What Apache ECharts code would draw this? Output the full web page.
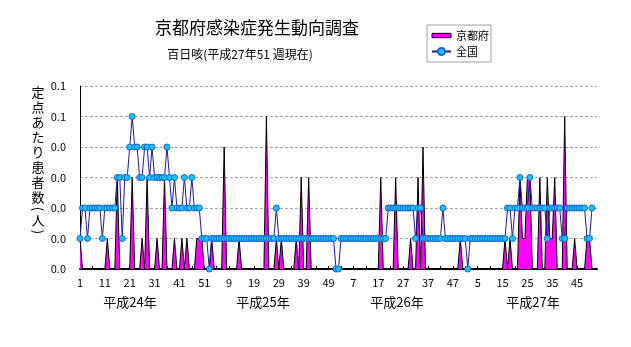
<!DOCTYPE html>
<html>
<head>
<meta charset="utf-8">
<script src="https://cdn.jsdelivr.net/npm/echarts@6/dist/echarts.min.js"></script>
<style>
html,body{margin:0;padding:0;background:#fff;}
#chart{width:631px;height:347px;}
</style>
</head>
<body>
<div id="chart"></div>
<script>
// ---- data ----
const yearLabels = ['平成24年', '平成25年', '平成26年', '平成27年'];
const weeksPerYear = [52, 52, 52, 53];
const yTickLabels = ['0.0', '0.0', '0.0', '0.0', '0.0', '0.1', '0.1'];

const kyoto2012 = [0.01,0,0,0,0,0,0,0,0,0, 0,0.01,0,0,0,0.03,0,0,0,0, 0,0.03,0,0,0,0.01,0,0.03,0,0,
                   0,0.01,0,0,0.03,0,0,0,0.01,0, 0,0.01,0,0.01,0,0,0,0.01,0.01,0.01, 0,0];
const kyoto2013 = [0,0.01,0,0,0,0,0.04,0,0,0, 0,0,0.01,0,0,0,0,0,0,0, 0,0,0,0.05,0,0,0,0.01,0,0.01,
                   0,0,0,0,0,0.01,0,0.03,0,0, 0.03,0,0,0,0,0,0,0,0,0, 0,0];
const kyoto2014 = [0,0,0,0,0,0,0,0,0,0, 0,0,0,0,0,0,0,0.03,0,0, 0,0,0,0.03,0,0,0,0,0,0.01,
                   0,0,0.03,0,0.04,0,0,0,0,0, 0,0,0,0,0,0,0,0,0,0.01, 0,0];
const kyoto2015 = [0,0,0,0,0,0,0,0,0,0, 0,0,0,0,0,0.01,0,0.01,0,0, 0,0.03,0.01,0.01,0.03,0.03,0,0,0,0.03,
                   0,0,0.03,0.01,0.01,0.03,0,0,0,0.05, 0,0,0,0.01,0,0,0,0,0.01,0.01, 0];

const national2012 = [0.01,0.02,0.02,0.01,0.02,0.02,0.02,0.02,0.02,0.01,
                      0.02,0.02,0.02,0.02,0.02,0.03,0.03,0.01,0.03,0.03,
                      0.04,0.05,0.04,0.04,0.03,0.03,0.04,0.04,0.03,0.04,
                      0.03,0.03,0.03,0.03,0.03,0.04,0.03,0.02,0.03,0.02,
                      0.02,0.02,0.03,0.02,0.02,0.03,0.02,0.02,0.02,0.01,
                      0.01,0.01];
const national2013 = [0,0.01,0.01,0.01,0.01,0.01,0.01,0.01,0.01,0.01,
                      0.01,0.01,0.01,0.01,0.01,0.01,0.01,0.01,0.01,0.01,
                      0.01,0.01,0.01,0.01,0.01,0.01,0.01,0.02,0.01,0.01,
                      0.01,0.01,0.01,0.01,0.01,0.01,0.01,0.01,0.01,0.01,
                      0.01,0.01,0.01,0.01,0.01,0.01,0.01,0.01,0.01,0.01,
                      0.01,0];
const national2014 = [0,0.01,0.01,0.01,0.01,0.01,0.01,0.01,0.01,0.01,
                      0.01,0.01,0.01,0.01,0.01,0.01,0.01,0.01,0.01,0.01,
                      0.02,0.02,0.02,0.02,0.02,0.02,0.02,0.02,0.02,0.02,
                      0.02,0.01,0.02,0.02,0.01,0.01,0.01,0.01,0.01,0.01,
                      0.01,0.01,0.02,0.01,0.01,0.01,0.01,0.01,0.01,0.01,
                      0.01,0.01];
const national2015 = [0,0.01,0.01,0.01,0.01,0.01,0.01,0.01,0.01,0.01,
                      0.01,0.01,0.01,0.01,0.01,0.01,0.02,0.02,0.01,0.02,
                      0.02,0.03,0.02,0.02,0.02,0.03,0.02,0.02,0.02,0.02,
                      0.02,0.02,0.01,0.02,0.02,0.02,0.02,0.02,0.01,0.01,
                      0.02,0.02,0.02,0.02,0.02,0.02,0.02,0.02,0.01,0.01,
                      0.02];

// ---- build ----
const weekLabels = [];
weeksPerYear.forEach(n => { for (let w = 1; w <= n; w++) weekLabels.push(String(w)); });
const kyoto = [].concat(kyoto2012, kyoto2013, kyoto2014, kyoto2015);
const national = [].concat(national2012, national2013, national2014, national2015);

const FONT = '"Noto Sans CJK JP", "Noto Sans", sans-serif';
const chart = echarts.init(document.getElementById('chart'), null, {renderer: 'canvas'});

const yName = '定点あたり患者数(人)';
const yNameEls = [];
let yy = 85;
for (const ch of yName) {
  const paren = (ch === '(' || ch === ')');
  const h = paren ? 8 : 15;
  yNameEls.push({
    type: 'text', x: 38, y: yy + h / 2, rotation: paren ? -Math.PI / 2 : 0,
    style: {text: ch, fill: '#000', font: '13px ' + FONT, align: 'center', verticalAlign: 'middle'}
  });
  yy += h;
}
const yearX = [130, 263, 397, 533];
const yearEls = yearLabels.map((t, k) => ({
  type: 'text', x: yearX[k], y: 302,
  style: {text: t, fill: '#000', font: '13px ' + FONT, align: 'center', verticalAlign: 'middle'}
}));

chart.setOption({
  animation: false,
  backgroundColor: '#fff',
  grid: {left: 80, right: 34, top: 86, bottom: 78},
  legend: {
    orient: 'vertical', left: 427, top: 25,
    padding: [5, 2, 5, 4], itemGap: 5, itemWidth: 19, itemHeight: 9,
    backgroundColor: '#fff', borderColor: '#a0a0a0', borderWidth: 1,
    textStyle: {fontSize: 11, color: '#000', fontFamily: FONT},
    data: [
      {name: '京都府', icon: 'path://M0,0H22V5H0Z', itemStyle: {color: '#ff00ff', borderColor: '#000', borderWidth: 1}},
      {name: '全国'}
    ]
  },
  xAxis: {
    type: 'category', data: weekLabels, boundaryGap: false,
    axisLine: {lineStyle: {color: '#000', width: 2}},
    axisTick: {inside: true, length: 3, interval: (i) => i % 5 === 0, lineStyle: {color: '#000'}},
    axisLabel: {interval: (i) => i % 10 === 0, color: '#000', fontSize: 11, margin: 8, fontFamily: FONT},
    splitLine: {show: false}
  },
  yAxis: {
    type: 'value', min: 0, max: 0.06, interval: 0.01,
    axisLine: {show: true, lineStyle: {color: '#000', width: 1}},
    axisTick: {show: false},
    axisLabel: {
      formatter: (v) => yTickLabels[Math.round(v / 0.01)],
      color: '#000', fontSize: 11, margin: 14, fontFamily: FONT
    },
    splitLine: {lineStyle: {color: '#a8a0b0', type: [3, 2], width: 1}}
  },
  series: [
    {
      name: '京都府', type: 'line', data: kyoto, showSymbol: false, symbol: 'none', z: 2,
      lineStyle: {color: '#000', width: 1},
      itemStyle: {color: '#ff00ff'},
      areaStyle: {color: '#ff00ff', opacity: 1}
    },
    {
      name: '全国', type: 'line', data: national, symbol: 'circle', symbolSize: 6, z: 3,
      showSymbol: true, showAllSymbol: true,
      lineStyle: {color: '#1c1c96', width: 1},
      itemStyle: {color: '#19c3ff', borderColor: '#1a5fd0', borderWidth: 1}
    }
  ],
  graphic: [
    {type: 'text', x: 257, y: 28, style: {text: '京都府感染症発生動向調査', fill: '#000', font: '17px ' + FONT, align: 'center', verticalAlign: 'middle'}},
    {type: 'text', x: 240, y: 54, style: {text: '百日咳(平成27年51 週現在)', fill: '#000', font: '12px ' + FONT, align: 'center', verticalAlign: 'middle'}}
  ].concat(yNameEls, yearEls)
});
</script>
</body>
</html>
